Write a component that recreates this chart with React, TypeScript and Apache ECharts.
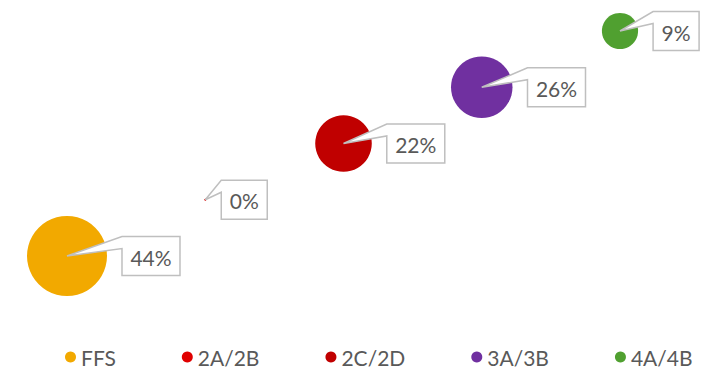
import { useEffect, useRef } from "react";
import * as echarts from "echarts";

// Grades and their share of the total
const categories = ["FFS", "2A/2B", "2C/2D", "3A/3B", "4A/4B"];
const xPositions = [1, 2, 3, 4, 5];
const yPositions = [1, 2, 3, 4, 5];
const shares = [44, 0, 22, 26, 9];
const palette = ["#F2A900", "#E00000", "#C00000", "#7030A0", "#50A030"];

const FONT = "Lato, 'Open Sans', 'Liberation Sans', sans-serif";
const LABEL_SIZE = 21;

// Bubble area is proportional to the share
const bubbleDiameter = (v: number) => Math.max(2, 12.06 * Math.sqrt(v));

let measureCtx: CanvasRenderingContext2D | null = null;
function textWidth(text: string): number {
  if (!measureCtx) {
    measureCtx = document.createElement("canvas").getContext("2d");
  }
  if (!measureCtx) return text.length * 12;
  measureCtx.font = `${LABEL_SIZE}px ${FONT}`;
  return measureCtx.measureText(text).width;
}

export default function App() {
  const ref = useRef<HTMLDivElement>(null);

  useEffect(() => {
    if (!ref.current) return;
    const chart = echarts.init(ref.current, undefined, { renderer: "svg" });

    const bubbleSeries = categories.map((name, i) => ({
      name,
      type: "scatter",
      clip: false,
      silent: true,
      z: 2,
      data: [[xPositions[i], yPositions[i], shares[i]]],
      symbolSize: (d: number[]) => bubbleDiameter(d[2]),
      itemStyle: { color: palette[i], opacity: 1 },
    }));

    const calloutSeries = {
      type: "custom",
      clip: false,
      silent: true,
      z: 5,
      data: categories.map((_, i) => [xPositions[i], yPositions[i], shares[i]]),
      renderItem: (_params: any, api: any) => {
        const [cx, cy] = api.coord([api.value(0), api.value(1)]);
        const v = api.value(2) as number;
        const r = bubbleDiameter(v) / 2;
        const text = `${v}%`;
        const w = Math.round(textWidth(text)) + 17;
        const h = 39;
        const L = cx + r + 15;
        const T = cy - h / 2;
        return {
          type: "group",
          children: [
            {
              type: "polygon",
              shape: {
                points: [
                  [cx, cy],
                  [L, T + 12],
                  [L, T + h],
                  [L + w, T + h],
                  [L + w, T],
                  [L, T],
                ],
              },
              style: { fill: "#ffffff", stroke: "#BFBFBF", lineWidth: 1.5 },
            },
            {
              type: "text",
              x: L + w / 2,
              y: cy + 1,
              style: {
                text,
                fill: "#595959",
                fontSize: LABEL_SIZE,
                fontFamily: FONT,
                align: "center",
                verticalAlign: "middle",
              },
            },
          ],
        };
      },
    };

    chart.setOption({
      animation: false,
      backgroundColor: "#ffffff",
      grid: { left: 67, right: 95, top: 31, bottom: 114 },
      xAxis: { type: "value", min: 1, max: 5, show: false },
      yAxis: { type: "value", min: 1, max: 5, show: false },
      legend: {
        data: categories,
        left: 60,
        top: 338,
        icon: "circle",
        itemWidth: 11,
        itemHeight: 11,
        itemGap: 66,
        textStyle: { color: "#595959", fontSize: 21, fontFamily: FONT, lineHeight: 28 },
      },
      series: [...bubbleSeries, calloutSeries],
    });

    return () => chart.dispose();
  }, []);

  return (
    <div
      ref={ref}
      style={{ position: "fixed", left: 0, top: 0, width: 715, height: 370, background: "#fff" }}
    />
  );
}
